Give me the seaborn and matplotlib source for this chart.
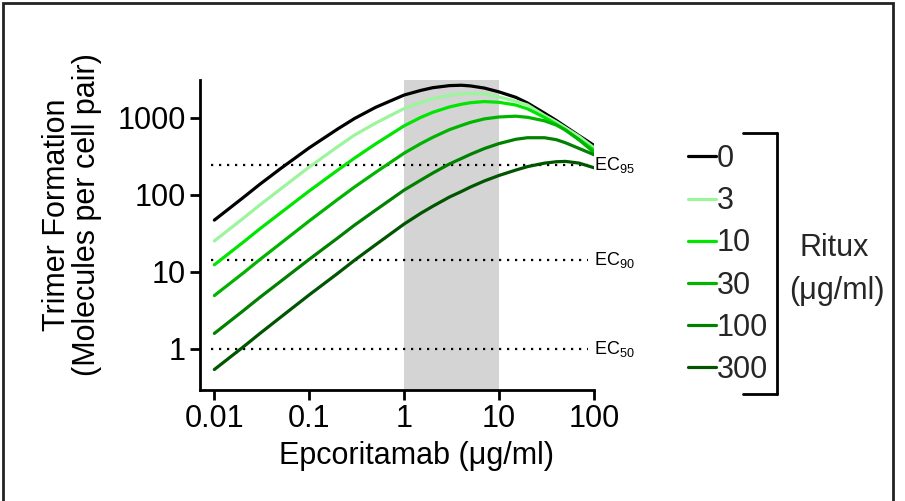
import numpy as np
import pandas as pd
import seaborn as sns
import matplotlib.pyplot as plt
from matplotlib.lines import Line2D
from matplotlib.patches import Rectangle

# Epcoritamab concentration (ug/ml)
epcoritamab = [0.01, 0.02, 0.03, 0.05, 0.1, 0.2, 0.3, 0.5, 1, 1.5, 2, 3, 4, 5,
               7, 10, 15, 20, 30, 40, 50, 70, 100]

# Trimer formation (molecules per cell pair) for each rituximab concentration
ritux_0 = [46.8, 91.2, 136, 219, 407, 716, 977, 1365, 1972, 2265, 2455, 2612,
           2642, 2588, 2427, 2163, 1841, 1549, 1148, 923, 767, 582, 437]
ritux_3 = [25.1, 49, 73.3, 119, 229, 422, 596, 851, 1318, 1585, 1758, 1950,
           2042, 2075, 2042, 1862, 1641, 1462, 1072, 881, 741, 569, 407]
ritux_10 = [12.3, 24, 35.9, 58.2, 112, 209, 299, 457, 785, 1012, 1175, 1380,
            1496, 1567, 1622, 1585, 1462, 1303, 1012, 822, 692, 519, 380]
ritux_30 = [4.9, 9.55, 14.3, 23.4, 45.7, 87.1, 126, 195, 347, 462, 556, 700,
            794, 871, 966, 1023, 1047, 1012, 912, 804, 692, 513, 355]
ritux_100 = [1.58, 3.09, 4.62, 7.5, 14.5, 27.5, 40.3, 63.1, 115, 155, 191, 251,
             295, 335, 398, 462, 525, 550, 550, 519, 473, 398, 331]
ritux_300 = [0.537, 1.047, 1.567, 2.57, 5.01, 9.55, 14.1, 22.4, 41.7, 57.5, 70.8,
             93.3, 110, 126, 151, 178, 209, 232, 257, 268, 271, 257, 224]

ritux_levels = ["0", "3", "10", "30", "100", "300"]
series = [ritux_0, ritux_3, ritux_10, ritux_30, ritux_100, ritux_300]
colors = ["#000000", "#9CF59C", "#00E600", "#00B400", "#008200", "#005500"]

# Reference effective-concentration thresholds
ec_labels = ["EC$_{95}$", "EC$_{90}$", "EC$_{50}$"]
ec_values = [240, 14, 1]

# Clinically relevant exposure window
window = [1, 10]

df = pd.DataFrame({
    "Epcoritamab": np.tile(epcoritamab, len(series)),
    "Trimer": np.concatenate(series),
    "Ritux": np.repeat(ritux_levels, len(epcoritamab)),
})

sns.set_theme(style="ticks")
plt.rcParams["font.family"] = ["Liberation Sans", "DejaVu Sans"]
plt.rcParams["mathtext.default"] = "regular"

W, H = 905, 501
fig = plt.figure(figsize=(W / 100, H / 100), dpi=100)
ax = fig.add_axes([200 / W, 1 - 390 / H, 394 / W, 310 / H])

ax.axvspan(window[0], window[1], color="#D4D4D4", lw=0, zorder=0)

for val in ec_values:
    ax.axhline(val, xmin=0.028, xmax=0.985, color="black", lw=1.6,
               linestyle=(0, (1, 2.6)), zorder=1)

palette = dict(zip(ritux_levels, colors))
sns.lineplot(data=df, x="Epcoritamab", y="Trimer", hue="Ritux",
             hue_order=ritux_levels, palette=palette, linewidth=2.3,
             legend=False, ax=ax, zorder=3)
for line in ax.get_lines():
    line.set_solid_joinstyle("round")

ax.set_xscale("log")
ax.set_yscale("log")
ax.set_xlim(0.00706, 100)
ax.set_ylim(0.291, 3090)
ax.set_xticks([0.01, 0.1, 1, 10, 100])
ax.set_xticklabels(["0.01", "0.1", "1", "10", "100"])
ax.set_yticks([1, 10, 100, 1000])
ax.set_yticklabels(["1", "10", "100", "1000"])
ax.minorticks_off()
ax.tick_params(axis="both", labelsize=22, width=2, length=7, color="black",
               labelcolor="black", pad=3)

for side in ["top", "right"]:
    ax.spines[side].set_visible(False)
for side in ["left", "bottom"]:
    ax.spines[side].set_linewidth(2)
    ax.spines[side].set_color("black")

ax.set_xlabel("")
ax.set_ylabel("")
fig.text(416 / W, 1 - 456 / H, "Epcoritamab (\u03bcg/ml)", fontsize=22,
         ha="center", va="center", color="black")
fig.text(72 / W, 1 - 215 / H, "Trimer Formation\n(Molecules per cell pair)",
         fontsize=22, ha="center", va="center", rotation=90,
         multialignment="center", linespacing=1.0, color="black")

for lab, val in zip(ec_labels, ec_values):
    ax.text(1.0, val, lab, transform=ax.get_yaxis_transform(), fontsize=13,
            va="center", ha="left", color="black")

# Legend with bracket and title
handles = [Line2D([], [], color=c, lw=2.3) for c in colors]
leg = fig.legend(handles, ritux_levels, loc="upper left",
                 bbox_to_anchor=(688 / W, 1 - 144 / H), frameon=False,
                 fontsize=22, handlelength=0.9, handletextpad=0.05,
                 labelspacing=0.4, borderaxespad=0, borderpad=0)

bx = 777 / W
y_top = 1 - 133 / H
y_bot = 1 - 394 / H
fig.add_artist(Line2D([bx, bx], [y_top, y_bot], color="black", lw=2))
fig.add_artist(Line2D([743 / W, bx], [y_top, y_top], color="black", lw=2))
fig.add_artist(Line2D([743 / W, bx], [y_bot, y_bot], color="black", lw=2))
fig.text(834 / W, 1 - 248 / H, "Ritux", fontsize=22, ha="center", va="center")
fig.text(837 / W, 1 - 291 / H, "(\u03bcg/ml)", fontsize=22, ha="center", va="center")

# Outer frame
fig.add_artist(Rectangle((3 / W, -0.02), 890 / W, 1.02 - 3 / H,
                         transform=fig.transFigure, fill=False,
                         edgecolor="#222222", lw=2))

fig.savefig("out.png", dpi=100)
